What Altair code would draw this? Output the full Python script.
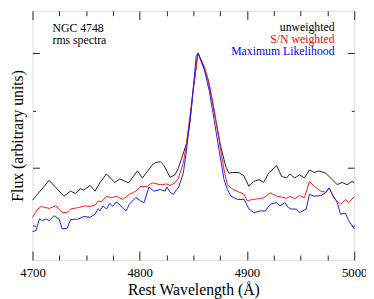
import altair as alt
import pandas as pd

# ---- data ----
wl_unweighted = [4700.0, 4715.5, 4729.3, 4735.4, 4740.0, 4744.5, 4747.6, 4753.7, 4758.3, 4762.8,
                 4768.9, 4776.6, 4781.4, 4789.6, 4797.9, 4802.4, 4807.0, 4811.6, 4814.6, 4819.2,
                 4822.3, 4828.3, 4832.9, 4836.0, 4839.0, 4843.6, 4846.6, 4849.7, 4854.3, 4858.9,
                 4863.4, 4866.5, 4871.0, 4875.6, 4880.2, 4883.2, 4886.3, 4892.3, 4897.1, 4901.7,
                 4906.2, 4911.3, 4915.6, 4920.1, 4927.7, 4932.3, 4936.9, 4939.9, 4944.5, 4949.0,
                 4953.6, 4958.2, 4962.8, 4967.3, 4973.5, 4978.0, 4984.2, 4988.7, 4993.3, 4997.9,
                 5000.0]
flux_unweighted = [0.360, 0.446, 0.377, 0.399, 0.389, 0.410, 0.403, 0.424, 0.399, 0.435,
                   0.474, 0.437, 0.452, 0.435, 0.487, 0.456, 0.484, 0.513, 0.523, 0.527,
                   0.513, 0.459, 0.470, 0.499, 0.541, 0.606, 0.691, 0.833, 1.000, 0.947,
                   0.890, 0.819, 0.705, 0.591, 0.506, 0.477, 0.480, 0.480, 0.466, 0.420,
                   0.441, 0.449, 0.437, 0.477, 0.510, 0.463, 0.456, 0.474, 0.456, 0.470,
                   0.456, 0.491, 0.480, 0.487, 0.477, 0.456, 0.427, 0.437, 0.427, 0.441,
                   0.435]

wl_sn = [4700.0, 4704.8, 4708.0, 4715.5, 4721.7, 4727.7, 4732.3, 4735.4, 4743.0, 4749.1,
         4753.7, 4758.3, 4761.3, 4764.3, 4768.9, 4773.4, 4778.0, 4784.1, 4790.3, 4796.3,
         4800.6, 4807.0, 4811.6, 4819.2, 4825.3, 4828.3, 4832.9, 4836.0, 4840.6, 4843.6,
         4846.6, 4851.2, 4854.3, 4860.3, 4864.9, 4869.5, 4874.0, 4878.6, 4881.7, 4886.3,
         4892.3, 4896.9, 4900.3, 4904.9, 4909.4, 4915.6, 4921.6, 4927.7, 4932.3, 4936.9,
         4939.9, 4944.5, 4949.0, 4953.6, 4958.2, 4962.8, 4968.9, 4973.5, 4976.5, 4981.1,
         4987.2, 4991.8, 4994.8, 5000.0]
flux_sn = [0.285, 0.321, 0.332, 0.324, 0.335, 0.306, 0.306, 0.321, 0.328, 0.335,
           0.332, 0.338, 0.356, 0.353, 0.377, 0.370, 0.377, 0.363, 0.385, 0.399,
           0.419, 0.420, 0.435, 0.427, 0.430, 0.424, 0.435, 0.456, 0.520, 0.606,
           0.719, 0.890, 1.000, 0.940, 0.862, 0.748, 0.620, 0.491, 0.427, 0.408,
           0.395, 0.387, 0.356, 0.363, 0.365, 0.370, 0.392, 0.377, 0.373, 0.368,
           0.377, 0.366, 0.380, 0.370, 0.441, 0.420, 0.399, 0.394, 0.413, 0.370,
           0.342, 0.363, 0.349, 0.375]

wl_ml = [4700.0, 4703.2, 4706.4, 4709.4, 4712.5, 4715.5, 4720.1, 4724.7, 4727.7, 4732.3,
         4735.4, 4743.0, 4747.6, 4753.7, 4758.3, 4761.3, 4762.8, 4765.9, 4768.9, 4772.0,
         4775.0, 4778.0, 4782.6, 4787.2, 4790.3, 4796.3, 4800.9, 4804.0, 4808.6, 4813.1,
         4819.2, 4823.7, 4825.3, 4828.3, 4831.4, 4834.4, 4836.0, 4840.6, 4843.6, 4848.2,
         4852.7, 4854.6, 4860.3, 4864.9, 4869.5, 4874.0, 4878.6, 4881.7, 4885.0, 4891.2,
         4897.3, 4901.9, 4906.4, 4912.5, 4917.0, 4921.6, 4927.7, 4930.8, 4935.3, 4938.4,
         4941.5, 4946.0, 4949.0, 4955.2, 4958.2, 4962.8, 4968.9, 4973.5, 4976.5, 4979.6,
         4984.2, 4987.2, 4991.8, 4994.8, 5000.0]
flux_ml = [0.224, 0.227, 0.278, 0.271, 0.278, 0.271, 0.292, 0.278, 0.235, 0.238,
           0.275, 0.278, 0.289, 0.285, 0.299, 0.323, 0.313, 0.335, 0.321, 0.346,
           0.333, 0.352, 0.335, 0.313, 0.342, 0.371, 0.356, 0.349, 0.417, 0.399,
           0.406, 0.399, 0.417, 0.394, 0.385, 0.406, 0.413, 0.477, 0.577, 0.762,
           0.990, 0.996, 0.926, 0.833, 0.705, 0.577, 0.449, 0.406, 0.377, 0.363,
           0.363, 0.321, 0.306, 0.313, 0.313, 0.342, 0.349, 0.335, 0.349, 0.328,
           0.321, 0.321, 0.306, 0.321, 0.385, 0.377, 0.380, 0.392, 0.413, 0.385,
           0.349, 0.299, 0.303, 0.271, 0.235]

x_major = [4700, 4800, 4900, 5000]
x_minor = [4725, 4750, 4775, 4825, 4850, 4875, 4925, 4950, 4975]
y_major = [0.5, 1.0]
y_minor = [0.25, 0.75]

left_labels = ["NGC 4748", "rms spectra"]
right_labels = ["unweighted", "S/N weighted", "Maximum Likelihood"]
right_colors = ["black", "red", "blue"]

# ---- chart ----
FONT = "'Liberation Serif', 'Times New Roman', Times, 'DejaVu Serif', serif"
xs = alt.Scale(domain=[4700, 5000], nice=False, zero=False)
ys = alt.Scale(domain=[0.1, 1.183], nice=False, zero=False)


def axis(orient, values, size, **kw):
    opts = dict(orient=orient, values=values, tickSize=size, offset=-size,
                domain=False, grid=False, labels=False, title=None,
                tickColor="#222", tickWidth=1)
    opts.update(kw)
    return alt.Axis(**opts)


def line(wl, fx, color, xax, yax):
    df = pd.DataFrame({"wl": wl, "flux": fx})
    return alt.Chart(df).mark_line(color=color, strokeWidth=1).encode(
        x=alt.X("wl:Q", scale=xs, axis=xax),
        y=alt.Y("flux:Q", scale=ys, axis=yax),
    )


x_main = axis("bottom", x_major, 9, labels=True, format="d", labelFont=FONT,
              labelFontSize=13, labelColor="black", labelPadding=7,
              labelFlush=False, labelOverlap=False, labelBound=False,
              title="Rest Wavelength (Å)", titleFont=FONT, titleFontSize=16,
              titleFontWeight="normal", titleColor="black", titlePadding=2)
y_main = axis("left", y_major, 7, title="Flux (arbitrary units)", titleFont=FONT,
              titleFontSize=16, titleFontWeight="normal", titleColor="black",
              titlePadding=7)

l1 = line(wl_unweighted, flux_unweighted, "#222", x_main, y_main)
l2 = line(wl_sn, flux_sn, "#ff1a1a", axis("bottom", x_minor, 5), axis("left", y_minor, 3))
l3 = line(wl_ml, flux_ml, "#1a1aff", axis("top", x_major, 9), axis("right", y_major, 7))

tl = pd.DataFrame({"wl": [4718.6, 4718.6], "flux": [1.089, 1.039], "txt": left_labels})
tr = pd.DataFrame({"wl": [4981.7] * 3, "flux": [1.0956, 1.0431, 0.9903],
                   "txt": right_labels, "col": right_colors})

t1 = alt.Chart(tl).mark_text(align="left", baseline="alphabetic", font=FONT,
                             fontSize=12, color="black").encode(
    x=alt.X("wl:Q", scale=xs, axis=axis("top", x_minor, 5)),
    y=alt.Y("flux:Q", scale=ys, axis=axis("right", y_minor, 3)),
    text="txt:N",
)
t2 = alt.Chart(tr).mark_text(align="right", baseline="alphabetic", font=FONT,
                             fontSize=12).encode(
    x=alt.X("wl:Q", scale=xs, axis=None),
    y=alt.Y("flux:Q", scale=ys, axis=None),
    text="txt:N",
    color=alt.Color("col:N", scale=None),
)

chart = (
    alt.layer(l1, l2, l3, t1, t2)
    .resolve_axis(x="independent", y="independent")
    .properties(width=328, height=254,
                autosize=alt.AutoSizeParams(type="none"),
                padding={"left": 25, "top": 0, "right": 12, "bottom": 37})
    .configure_view(stroke="#333", strokeWidth=1)
    .configure(background="white")
)

chart.save("out.html", embed_options={"renderer": "svg", "actions": False})
